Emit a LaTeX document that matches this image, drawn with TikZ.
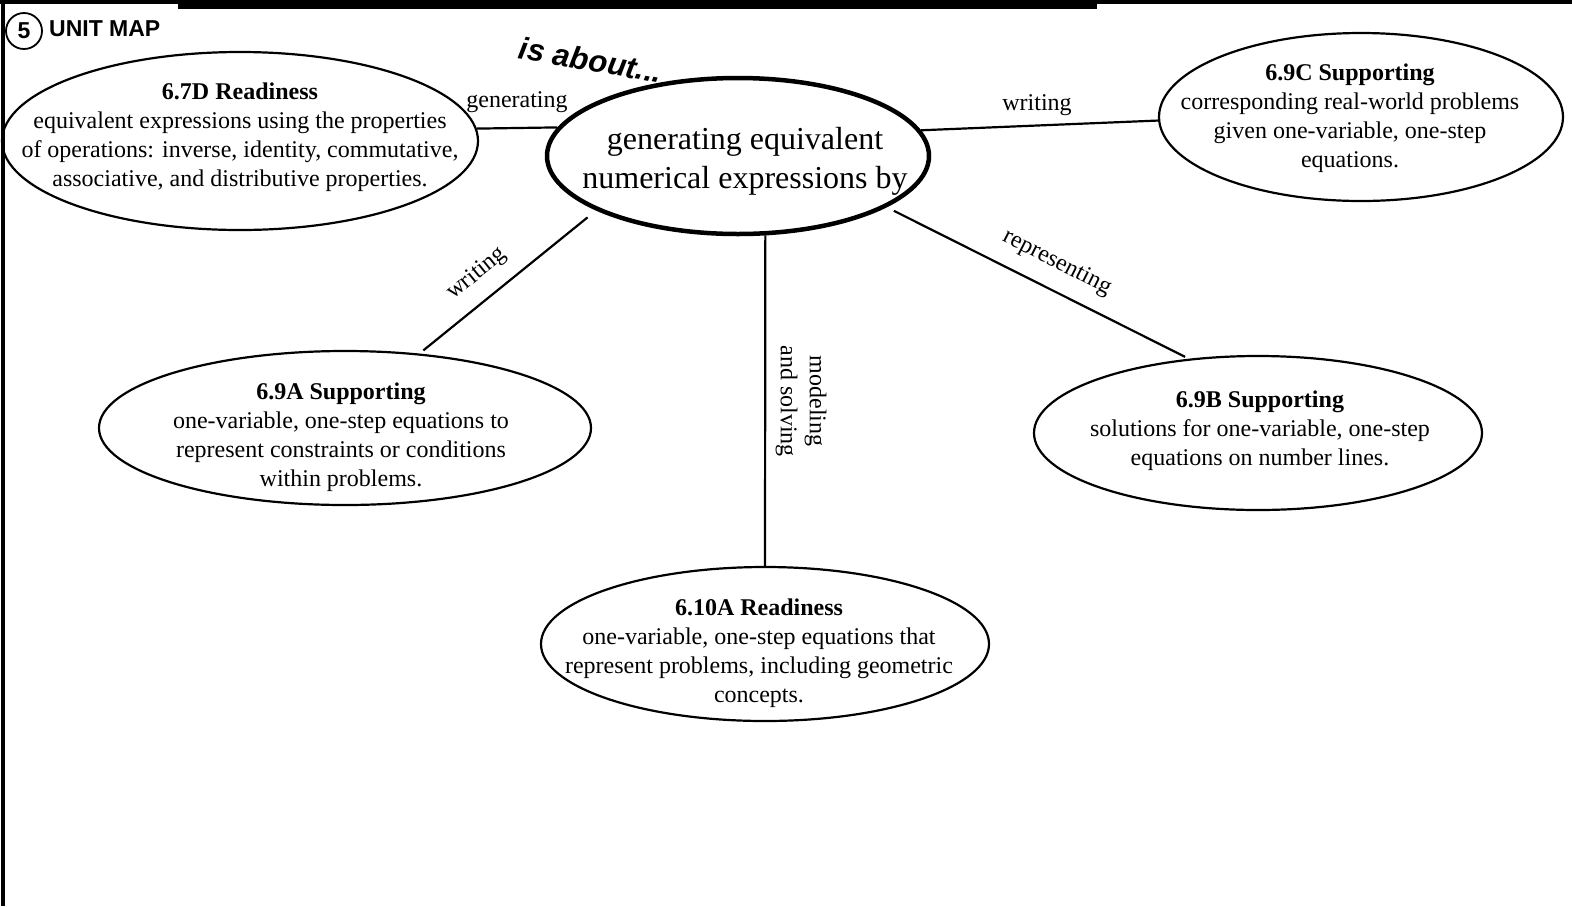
\documentclass[tikz,border=0pt]{standalone}
\usepackage{fontspec}
\setmainfont{Liberation Serif}
\newfontfamily\arialf{Liberation Sans}
\usetikzlibrary{shapes.geometric}
\begin{document}
\begin{tikzpicture}[x=1pt,y=-1pt,
  oval/.style={draw, ellipse, line width=2.2pt, inner sep=0pt},
  body/.style={align=center, font=\fontsize{24}{29}\selectfont, inner sep=0pt},
  lbl/.style={align=center, font=\fontsize{24}{29}\selectfont, inner sep=0pt},
  link/.style={line width=2.2pt}]
\useasboundingbox (0,0) rectangle (1572,906);
% frame
\fill (0,0) rectangle (1572,4);
\fill (178,0) rectangle (1097,9);
\fill (1,4) rectangle (5,906);
% title
\node[draw, circle, line width=1.8pt, minimum size=36pt, inner sep=0pt,
      font=\arialf\bfseries\fontsize{23}{26}\selectfont] (num) at (24,31) {5};
\node[anchor=west, inner sep=0pt, font=\arialf\bfseries\fontsize{23}{28}\selectfont] (title) at (49,29) {UNIT MAP};
\node[inner sep=0pt, rotate=-10, font=\arialf\bfseries\itshape\fontsize{31}{36}\selectfont] (about) at (591,60) {is about...};
% ellipses
\node[oval, line width=4.5pt, minimum width=382pt, minimum height=156pt] (c) at (738,156) {};
\node[inner sep=0pt, align=center, font=\fontsize{32}{39}\selectfont] (ct) at (745,161) {generating equivalent\\numerical expressions by};
\node[oval, minimum width=476pt, minimum height=178pt] (d7) at (240,141) {};
\node[body] (d7t) at (240,137) {\textbf{6.7D Readiness}\\equivalent expressions using the properties\\of operations: inverse, identity, commutative,\\associative, and distributive properties.};
\node[oval, minimum width=404pt, minimum height=168pt] (c9) at (1361,117) {};
\node[body] (c9t) at (1350,118) {\textbf{6.9C Supporting}\\corresponding real-world problems\\given one-variable, one-step\\equations.};
\node[oval, minimum width=492pt, minimum height=154pt] (a9) at (345,428) {};
\node[body] (a9t) at (341,437) {\textbf{6.9A Supporting}\\one-variable, one-step equations to\\represent constraints or conditions\\within problems.};
\node[oval, minimum width=448pt, minimum height=154pt] (b9) at (1258,433) {};
\node[body] (b9t) at (1260,431) {\textbf{6.9B Supporting}\\solutions for one-variable, one-step\\equations on number lines.};
\node[oval, minimum width=448pt, minimum height=154pt] (a10) at (765,644) {};
\node[body] (a10t) at (759,653) {\textbf{6.10A Readiness}\\one-variable, one-step equations that\\represent problems, including geometric\\concepts.};
% connectors
\draw[link] (c.171.6) -- (d7.3.1);
\draw[link] (c.8.5) -- (c9.181.7);
\draw[link, shorten <=11pt, shorten >=5pt] (c.201.4) -- (a9.45.7);
\draw[link] (c.289.3) -- (a10.north);
\draw[link, shorten <=8pt, shorten >=4pt] (c.341.5) -- (b9.133.1);
% labels
\node[lbl] (lgen) at (517,102) {generating};
\node[lbl] (lwr1) at (1037,105) {writing};
\node[lbl, rotate=39] (lwr2) at (477,274) {writing};
\node[lbl, rotate=-90] (lmod) at (801,401) {modeling\\and solving};
\node[lbl, rotate=-27] (lrep) at (1057,263) {representing};
\end{tikzpicture}
\end{document}
